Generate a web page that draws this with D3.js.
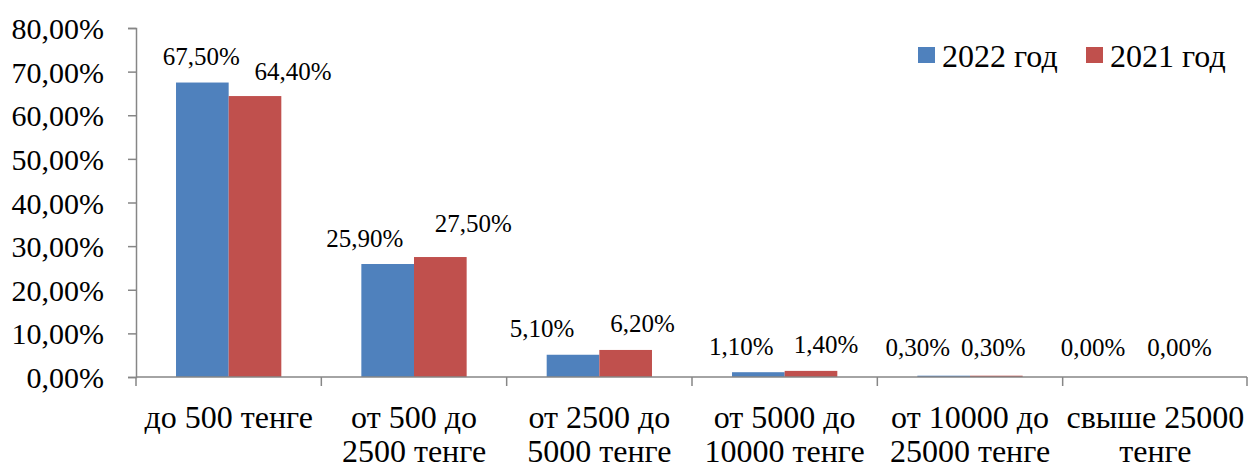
<!DOCTYPE html>
<html>
<head>
<meta charset="utf-8">
<script src="https://cdn.jsdelivr.net/npm/d3@7"></script>
<style>
body{margin:0;background:#fff;}
svg text{font-family:'Liberation Serif',Tinos,'Times New Roman',serif !important;}
</style>
</head>
<body>
<svg width="1248" height="463"></svg>
<script>
// data
var categories=["до 500 тенге","от 500 до\n2500 тенге","от 2500 до\n5000 тенге","от 5000 до\n10000 тенге","от 10000 до\n25000 тенге","свыше 25000\nтенге"];
var seriesNames=["2022 год","2021 год"];
var values2022=[67.5,25.9,5.1,1.1,0.3,0.0];
var values2021=[64.4,27.5,6.2,1.4,0.3,0.0];
var yTicks=[0,10,20,30,40,50,60,70,80];

// label nudges (dx from bar centre, dy from bar top) - labels were hand placed in the original
var nudge2022=[[-1,-17.5],[-23,-17],[-31,-18],[-17,-17],[-26,-20],[-36,-21]];
var nudge2021=[[38,-16],[33,-25],[17,-18],[15,-17.5],[-3,-20],[-2,-21]];

var plotLeft=136,plotRight=1248,plotTop=28,plotBottom=377;
var colors=["#4F81BD","#C0504D"];
var axisColor="#868686";

var svg=d3.select("svg");

var x=d3.scaleBand().domain(d3.range(categories.length)).range([plotLeft,plotRight]).padding(0);
var xi=d3.scaleBand().domain([0,1]).range([0,x.bandwidth()]).paddingInner(0).paddingOuter(0.76);
var y=d3.scaleLinear().domain([0,80]).range([plotBottom,plotTop]);

function fmt(v) {
	return v.toFixed(2).replace(".",",")+"%";
}

// y axis
var yAxis=svg.append("g").attr("transform","translate("+plotLeft+",0)")
	.call(d3.axisLeft(y).tickValues(yTicks).tickSize(8).tickSizeOuter(8).tickFormat(function(d){return fmt(d)}))
	.attr("font-family","Liberation Serif").attr("font-size",30);
yAxis.selectAll("path,line").attr("stroke",axisColor).attr("stroke-width",1.5);
yAxis.selectAll("text").attr("x",-32).attr("dy","0.35em").attr("fill","#000");

// x axis ticks at band edges
svg.selectAll(".xt").data(d3.range(categories.length+1)).enter().append("line")
	.attr("x1",function(d){return Math.min(plotLeft+d*x.step(),plotRight-1)})
	.attr("x2",function(d){return Math.min(plotLeft+d*x.step(),plotRight-1)})
	.attr("y1",plotBottom).attr("y2",plotBottom+9)
	.attr("stroke",axisColor).attr("stroke-width",1.5);

// bars
var series=[values2022,values2021];
var nudges=[nudge2022,nudge2021];
series.forEach(function(vals,s) {
	svg.selectAll(".bar"+s).data(vals).enter().append("rect")
		.attr("x",function(d,i){return x(i)+xi(s)})
		.attr("width",xi.bandwidth())
		.attr("y",function(d){return y(d)})
		.attr("height",function(d){return plotBottom-y(d)})
		.attr("fill",colors[s]);
});
svg.append("line").attr("x1",plotLeft).attr("x2",plotRight-1).attr("y1",plotBottom).attr("y2",plotBottom)
	.attr("stroke",axisColor).attr("stroke-width",1.5);

// value labels
series.forEach(function(vals,s) {
	svg.selectAll(".lab"+s).data(vals).enter().append("text")
		.attr("x",function(d,i){return x(i)+xi(s)+xi.bandwidth()/2+nudges[s][i][0]})
		.attr("y",function(d,i){return y(d)+nudges[s][i][1]})
		.attr("text-anchor","middle")
		.attr("font-family","Liberation Serif").attr("font-size",25)
		.text(function(d){return fmt(d)});
});

// category labels
svg.selectAll(".cat").data(categories).enter().append("text")
	.attr("text-anchor","middle")
	.attr("transform",function(d,i){return "translate("+(x(i)+x.bandwidth()/2)+",428)"})
	.attr("font-family","Liberation Serif").attr("font-size",32)
	.each(function(d) {
		var t=d3.select(this);
		d.split("\n").forEach(function(line,k) {
			t.append("tspan").attr("x",0).attr("y",k*34).text(line);
		});
	});

// legend
var legendX=[918,1086];
var lg=svg.selectAll(".leg").data(seriesNames).enter().append("g")
	.attr("transform",function(d,i){return "translate("+legendX[i]+",47)"});
lg.append("rect").attr("width",17).attr("height",16).attr("fill",function(d,i){return colors[i]});
lg.append("text").attr("x",24).attr("y",20)
	.attr("font-family","Liberation Serif").attr("font-size",32).text(function(d){return d});
</script>
</body>
</html>
